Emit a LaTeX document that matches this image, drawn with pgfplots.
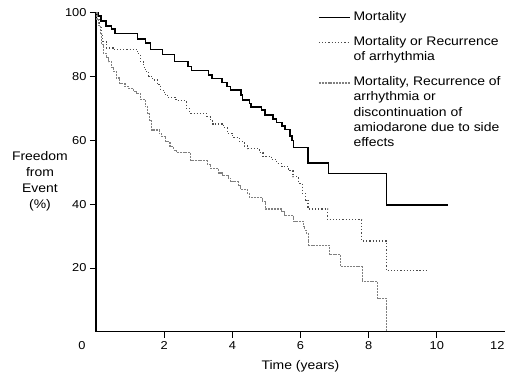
\documentclass[border=0pt]{standalone}
\usepackage{pgfplots}
\pgfplotsset{compat=1.18}
\usepackage{fontspec}
\setmainfont{Liberation Sans}[FakeStretch=1.12]

\begin{document}
\begin{tikzpicture}[x=1bp,y=1bp]
\useasboundingbox (-96,-44.25) rectangle (409,331.75);
\begin{axis}[
  at={(0,0)}, anchor=south west,
  scale only axis, width=409bp, height=318.75bp,
  xmin=0, xmax=12, ymin=0, ymax=100,
  axis lines=left, axis line style={-, line width=1.2bp},
  xtick={2,4,...,10}, ytick={20,40,...,100},
  extra x ticks={12},
  extra x tick style={xticklabel style={anchor=north east, xshift=3bp}},
  tick align=outside, major tick length=6bp,
  tick style={line width=1bp, black},
  tick label style={font=\fontsize{11.5}{13}\selectfont},
  /pgf/number format/assume math mode=true,
  xlabel={Time (years)},
  xlabel style={at={(axis description cs:0.5,-0.107)}, anchor=center, font=\fontsize{12.5}{15}\selectfont},
  ylabel={Freedom\\from\\Event\\(\%)},
  ylabel style={at={(axis description cs:-0.137,0.473)}, anchor=center, rotate=-90, align=center, font=\fontsize{12.5}{16}\selectfont},
  clip=false,
  const plot,
  legend style={at={(rel axis cs:0.535,1.02)}, anchor=north west, draw=none, fill=none,
    font=\fontsize{12.5}{15.3}\selectfont, row sep=10.5bp, column sep=1bp,
    cells={anchor=north west, align=left}},
  legend image code/.code={\draw[#1] (0bp,-8.5bp) -- (31bp,-8.5bp);},
]
\addplot[black, line width=1.6bp] coordinates {
(0,100) (0.05,99) (0.15,97.5) (0.3,96) (0.45,95) (0.55,93.6)
(1.22,91.8) (1.45,90.5) (1.6,88.6) (1.95,87.0) (2.3,84.8) (2.7,83.2)
(2.8,82.0) (3.3,80.5) (3.4,79.5) (3.7,78.2) (3.85,76.9) (3.95,75.8)
(4.25,74.3) (4.3,72.7) (4.5,71.6) (4.55,70.6) (4.85,69.5) (4.95,68.0)
(5.2,66.8) (5.3,65.6) (5.45,64.5) (5.55,63.5) (5.7,61.5) (5.75,60.0)
(5.8,57.8) (6.22,52.9) (6.82,49.7) (8.52,39.8) (10.33,39.8)
};
\addlegendentry{Mortality}
\addplot[black!70, line width=1.2bp, dotted] coordinates {
(0,100) (0.05,98) (0.1,96) (0.15,93.5) (0.2,91) (0.3,89) (0.5,88.5)
(1.22,87.2) (1.3,84.7) (1.4,83) (1.45,81.6) (1.55,80.2) (1.65,79.0)
(1.8,77.5) (1.9,75.8) (2.0,74.5) (2.1,73.5) (2.35,72.5) (2.65,70.1)
(2.75,68.5) (3.25,67.5) (3.35,66.2) (3.42,65.2) (3.75,64.0) (3.85,62.3)
(4.0,61.0) (4.2,59.6) (4.35,58.3) (4.45,57.4) (4.8,56.2) (4.9,55.0)
(5.15,54.0) (5.3,52.8) (5.45,51.8) (5.65,50.5) (5.78,48.6) (5.95,46.6)
(6.05,43.4) (6.15,41.3) (6.22,38.5) (6.8,35.1) (7.8,28.5) (8.52,19.2)
(9.68,19.2)
};
\addlegendentry{Mortality or Recurrence\\of arrhythmia}
\addplot[black!50, line width=1.1bp, dash pattern=on 2bp off 0.9bp] coordinates {
(0,100) (0.03,98) (0.08,96) (0.12,93.6) (0.17,90) (0.21,87.4) (0.3,86)
(0.36,84.7) (0.45,83) (0.51,81.6) (0.6,79.6) (0.7,77.9) (0.85,77.0)
(0.95,76.4) (1.1,75.5) (1.19,74.8) (1.3,72.8) (1.44,70.6) (1.52,68.5)
(1.58,66.4) (1.63,63.3) (1.85,62.2) (1.93,61.2) (2.05,59.6) (2.17,58.1)
(2.27,57.0) (2.37,56.2) (2.78,53.6) (3.27,52.6) (3.37,51.2) (3.6,49.8)
(3.7,49.0) (3.88,48.2) (3.95,47.0) (4.18,45.8) (4.25,44.5) (4.44,43.3)
(4.5,42.2) (4.88,40.8) (4.97,38.5) (5.45,37.6) (5.52,36.5) (5.8,34.6)
(6.08,33.0) (6.13,31.9) (6.18,30.8) (6.23,27.2) (6.84,24.1) (7.18,20.4)
(7.81,15.7) (8.26,10.5) (8.52,0.3)
};
\addlegendentry{Mortality, Recurrence of\\arrhythmia or\\discontinuation of\\amiodarone due to side\\effects}
\node[font=\fontsize{11.5}{13}\selectfont] at (rel axis cs:0,0) [xshift=-14bp, yshift=-13.5bp] {0};
\end{axis}
\end{tikzpicture}
\end{document}
